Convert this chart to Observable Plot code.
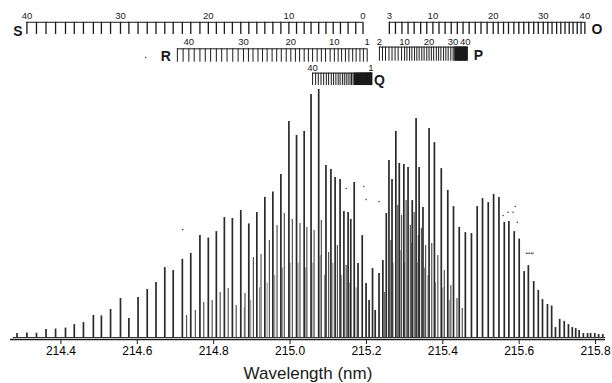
<!DOCTYPE html>
<html><head><meta charset="utf-8">
<script src="https://cdn.jsdelivr.net/npm/d3@7"></script>
<script src="https://cdn.jsdelivr.net/npm/@observablehq/plot@0.6"></script>
<style>html,body{margin:0;padding:0;background:#fff}</style>
</head><body><div id="chart"></div>
<script>
// Main spectral lines: wavelength (nm) and relative intensity
const peakNm = [214.285,214.311,214.336,214.361,214.386,214.412,214.435,214.459,214.485,214.506,
214.530,214.556,214.578,214.602,214.626,214.649,214.672,214.694,214.718,214.740,
214.764,214.786,214.807,214.828,214.849,214.871,214.892,214.913,214.934,214.955,
214.976,214.997,215.017,215.037,215.055,215.075,215.094,215.107,215.118,215.131,
215.141,215.152,215.159,215.168,215.178,215.189,215.199,215.207,215.216,215.223,
215.233,215.243,215.252,215.259,215.267,215.277,215.286,215.298,215.309,215.320,
215.330,215.338,215.348,215.364,215.378,215.396,215.413,215.428,215.443,215.459,
215.475,215.490,215.504,215.519,215.533,215.547,215.561,215.573,215.587,215.600,
215.613,215.624,215.638,215.650,215.661,215.674,215.685,215.695,215.706,215.718,
215.729,215.739,215.748,215.757,215.768,215.779,215.787,215.798,215.808,215.819];
const peakI = [1.6,1.8,1.7,3.2,3.4,3.8,5.2,6.0,8.9,8.7,
11.3,15.7,7.7,16.1,19.4,22.2,28.2,27.0,31.5,33.9,
41.1,40.1,42.7,48.4,48.0,51.2,45.8,50.4,56.5,58.7,
65.7,87.1,81.5,83.1,98.0,100.0,69.4,67.7,64.5,63.7,
50.8,50.4,47.6,62.5,29.8,41.1,21.8,14.9,27.8,10.9,
25.8,31.0,50.0,71.4,63.7,83.1,70.2,69.8,68.5,55.2,
88.3,68.5,52.4,84.3,78.6,68.1,59.3,52.8,44.4,42.3,
41.9,52.8,56.0,54.4,57.7,56.5,46.4,46.8,42.7,39.7,
26.6,29.0,22.6,19.0,15.3,13.3,12.7,4.0,7.3,6.5,
5.2,4.0,3.6,2.8,1.6,1.6,1.6,1.6,1.2,1.2];
// Weaker interleaved lines
const secNm = [214.729,214.752,214.774,214.796,214.817,214.838,214.859,214.882,214.904,214.924,
214.946,214.966,214.985,215.006,215.026,215.044,215.063,215.082,215.101,215.124,215.147,
215.248,215.264,215.282,215.292,215.304,215.315,215.325,215.336,215.344,215.355,
215.371,215.387,215.404,215.421,215.437,215.451];
const secI = [8.9,10.9,14.1,14.9,18.1,19.8,12.9,17.7,32.3,33.5,
39.1,45.2,50.0,47.6,46.0,44.4,43.1,47.2,34.3,37.1,29.0,
18.1,39.1,53.2,49.2,55.2,45.2,50.4,41.1,44.0,37.1,
37.9,33.1,27.0,21.0,15.7,11.7];
// Faint blended lines in the dense band centres
const faintNm = [214.880,214.897,214.920,214.940,214.960,214.980,215.000,215.021,215.041,215.060,
215.079,215.090,215.112,215.135,215.155,215.173,
215.270,215.290,215.300,215.318,215.333,215.352,215.361,215.381,215.400,215.417];
const faintI = [12,15,20,22,25,28,30,30,28,30,
33,25,30,25,22,20,
30,35,30,38,30,28,25,22,20,15];
// Specks in the scan
const speckNm = [214.622,214.719,215.147,215.193,215.199,215.233,215.558,215.571,215.584,215.590,215.595,215.619,215.623,215.627,215.632,215.636];
const speckI = [112.9,43.5,60.1,60.9,55.6,54.8,49.2,50.5,50.5,52.8,46.5,34.0,34.0,34.0,34.0,34.0];

// Branch ladders (line positions, nm)
const sBranch = [215.191,215.172,215.152,215.132,215.113,215.094,215.075,215.055,215.037,215.017,
214.997,214.976,214.955,214.934,214.913,214.892,214.871,214.849,214.828,214.807,
214.786,214.764,214.740,214.718,214.694,214.672,214.649,214.626,214.602,214.578,
214.556,214.530,214.506,214.485,214.459,214.435,214.412,214.386,214.361,214.336,214.311]; // J=0..40
const oBranch = [215.260,215.276,215.293,215.309,215.325,215.342,215.358,215.374,215.390,215.406,
215.422,215.438,215.453,215.469,215.485,215.500,215.516,215.532,215.545,215.559,
215.572,215.586,215.599,215.612,215.625,215.638,215.650,215.663,215.675,215.686,
215.698,215.709,215.720,215.731,215.741,215.752,215.762,215.772]; // J=3..40
const rBranch = [215.202,215.192,215.183,215.173,215.164,215.154,215.145,215.135,215.126,215.116,
215.105,215.093,215.082,215.071,215.059,215.048,215.037,215.025,215.014,215.002,
214.990,214.977,214.965,214.953,214.940,214.928,214.916,214.903,214.891,214.878,
214.864,214.850,214.835,214.821,214.807,214.792,214.778,214.764,214.749,214.735,214.720,214.705]; // J=1..42
const pBranch = [215.234,215.242,215.250,215.259,215.267,215.275,215.283,215.292,215.300,215.306,
215.313,215.319,215.326,215.332,215.338,215.345,215.351,215.358,215.364,215.370,
215.376,215.383,215.389,215.395,215.402,215.408,215.414,215.421,215.427,215.430,
215.433,215.437,215.440,215.443,215.446,215.449,215.453,215.456,215.459]; // J=2..40
const qBranch = [215.212,215.212,215.211,215.211,215.210,215.209,215.207,215.206,215.204,215.202,
215.200,215.198,215.196,215.193,215.190,215.187,215.184,215.181,215.177,215.173,
215.169,215.165,215.161,215.157,215.152,215.147,215.142,215.137,215.131,215.126,
215.120,215.114,215.108,215.101,215.095,215.088,215.081,215.074,215.067,215.059]; // J=1..40
const sLabels = [40,30,20,10,0];
const oLabels = [3,10,20,30,40];
const rLabels = [40,30,20,10,1];
const pLabels = [2,10,20,30,40];
const qLabels = [40,1];
const pBox = [215.433,215.467];
const qBox = [215.168,215.217];
const xTicks = [214.4,214.6,214.8,215.0,215.2,215.4,215.6,215.8];

const peaks = peakNm.map((nm,k)=>({nm, v: peakI[k]}));
const sec = secNm.map((nm,k)=>({nm, v: secI[k]}));
const faint = faintNm.map((nm,k)=>({nm, v: faintI[k]}));
const specks = speckNm.map((nm,k)=>({nm, v: speckI[k]}));
const ink = "#1a1a1a";

const ladders = [
  {name:"S", ticks:sBranch, j0:0, labels:sLabels, top:127.1, bottom:122.2, labelY:129.6, sw:1.3, letterX:sBranch[40], dx:-9, letterY:123.5},
  {name:"O", ticks:oBranch, j0:3, labels:oLabels, top:127.1, bottom:122.2, labelY:129.6, sw:1.3, letterX:oBranch[37], dx:12, letterY:124.1},
  {name:"R", ticks:rBranch, j0:1, labels:rLabels, top:116.4, bottom:111.0, labelY:119.3, sw:1.0, letterX:rBranch[41], dx:-11.5, letterY:113.3},
  {name:"P", ticks:pBranch, j0:2, labels:pLabels, top:117.1, bottom:111.4, labelY:119.3, sw:1.0, letterX:pBox[1], dx:10, letterY:113.7, box:pBox},
  {name:"Q", ticks:qBranch, j0:1, labels:qLabels, top:106.6, bottom:101.6, labelY:108.7, sw:1.0, letterX:qBox[1], dx:6.5, letterY:103.6, box:qBox}
];

const ladderMarks = ladders.flatMap(L => {
  const lo = d3.min(L.ticks), hi = Math.max(d3.max(L.ticks), L.box ? L.box[1] : -Infinity);
  const m = [
    Plot.ruleY([L.top], {x1: lo, x2: hi, stroke: ink, strokeWidth: 1}),
    Plot.ruleX(L.ticks, {x: d => d, y1: L.bottom, y2: L.top, stroke: ink, strokeWidth: L.sw}),
    Plot.text(L.labels, {x: j => L.ticks[j - L.j0], y: L.labelY, text: j => String(j), fontSize: 9.5, lineAnchor: "middle", fill: ink}),
    Plot.text([L.name], {x: L.letterX, y: L.letterY, dx: L.dx, fontSize: 14, fontWeight: "bold", lineAnchor: "middle", fill: ink})
  ];
  if (L.box) m.push(Plot.rect([L.box], {x1: d => d[0], x2: d => d[1], y1: L.bottom, y2: L.top, fill: ink}));
  return m;
});

const chart = Plot.plot({
  width: 612, height: 383,
  marginLeft: 10, marginRight: 7, marginTop: 0, marginBottom: 44,
  style: {fontFamily: "'Liberation Sans', Arial, sans-serif", background: "white", color: "black", overflow: "visible"},
  x: {domain: [214.268, 215.826]},
  y: {domain: [0, 100], range: [337, 89], axis: null},
  marks: [
    Plot.ruleY([-0.8], {x1: 214.268, x2: 215.826, stroke: ink, strokeWidth: 1.3}),
    Plot.ruleY([0], {x1: 214.275, x2: 215.826, stroke: "#333", strokeWidth: 1.2}),
    Plot.ruleX(faint, {x: "nm", y1: 0, y2: "v", stroke: "#888", strokeWidth: 1}),
    Plot.ruleX(sec, {x: "nm", y1: 0, y2: "v", stroke: "#555", strokeWidth: 1.2}),
    Plot.ruleX(peaks, {x: "nm", y1: 0, y2: "v", stroke: "#2a2a2a", strokeWidth: 1.7}),
    Plot.dot(specks, {x: "nm", y: "v", r: 0.8, fill: "#444", stroke: "none"}),
    ...ladderMarks,
    Plot.axisX({ticks: xTicks, tickSize: 5, tickPadding: 2, fontSize: 12, label: null, tickFormat: d => d.toFixed(1), stroke: ink}),
    Plot.text(["Wavelength (nm)"], {frameAnchor: "bottom", dy: 34, fontSize: 17, lineAnchor: "middle", fill: ink})
  ]
});
document.getElementById("chart").appendChild(chart);
</script>
</body></html>
